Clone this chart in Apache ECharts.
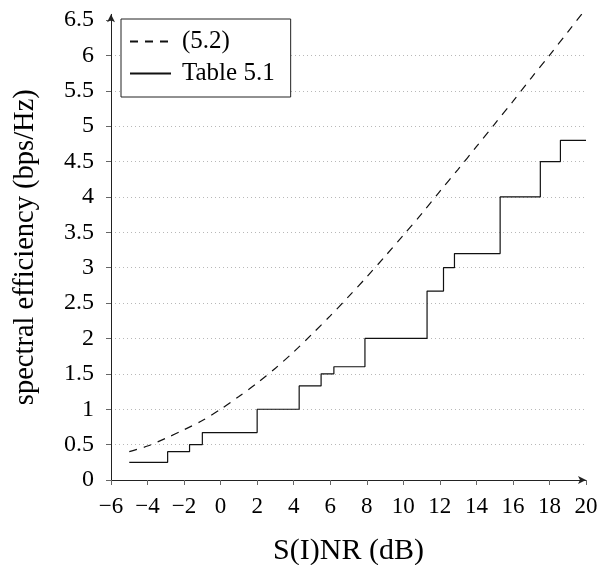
<!DOCTYPE html>
<html>
<head>
<meta charset="utf-8">
<script src="https://cdn.jsdelivr.net/npm/echarts@6/dist/echarts.min.js"></script>
<style>
  html, body { margin: 0; padding: 0; background: #fff; }
  #chart { width: 600px; height: 565px; }
</style>
</head>
<body>
<div id="chart"></div>
<script>
// Shannon-type bound (5.2): S(I)NR in dB vs. spectral efficiency
const boundSnr = [-5, -4, -3, -2, -1, 0, 1, 2, 3, 4, 5, 6, 7, 8, 9, 10, 11, 12, 13, 14, 15, 16, 17, 18, 19, 20];
const boundEff = [0.40, 0.48, 0.59, 0.71, 0.84, 1.00, 1.18, 1.37, 1.58, 1.81, 2.06, 2.32, 2.59, 2.87, 3.16, 3.46, 3.76, 4.08, 4.39, 4.71, 5.03, 5.35, 5.68, 6.00, 6.33, 6.66];

// Table 5.1: switching thresholds (dB) and the efficiency held from each threshold on
const tableSnr = [-5, -2.9, -1.7, -1.0, 2.0, 4.3, 5.5, 6.2, 7.9, 11.3, 12.2, 12.8, 15.3, 17.5, 18.6, 20];
const tableEff = [0.25, 0.40, 0.50, 0.67, 1.00, 1.33, 1.50, 1.60, 2.00, 2.67, 3.00, 3.20, 4.00, 4.50, 4.80, 4.80];

// Axis ticks
const xTicks = [-6, -4, -2, 0, 2, 4, 6, 8, 10, 12, 14, 16, 18, 20];
const yTicks = [0, 0.5, 1, 1.5, 2, 2.5, 3, 3.5, 4, 4.5, 5, 5.5, 6, 6.5];

const seriesNames = ['(5.2)', 'Table 5.1'];

const FONT = 'Liberation Serif';
const pxPerUnit = 460 / 6.5;
const yMax = 6.58;

const chart = echarts.init(document.getElementById('chart'), null, { renderer: 'canvas' });

const pair = (xs, ys) => xs.map((x, i) => [x, ys[i]]);

chart.setOption({
  animation: false,
  backgroundColor: '#fff',
  textStyle: { fontFamily: FONT, color: '#000' },
  grid: {
    left: 111,
    right: 14,
    bottom: 85,
    top: 480 - yMax * pxPerUnit,
    containLabel: false,
    outerBoundsMode: 'none'
  },
  legend: {
    left: 121,
    top: 19,
    orient: 'vertical',
    data: seriesNames,
    itemWidth: 41,
    itemHeight: 14,
    itemGap: 7,
    padding: [10, 16, 11, 8],
    borderColor: '#222',
    borderWidth: 1,
    backgroundColor: '#fff',
    itemStyle: { opacity: 0, color: 'rgba(0,0,0,0)', borderWidth: 0 },
    textStyle: { fontFamily: FONT, fontSize: 25, color: '#000', padding: [0, 0, 0, 6] },
    selectedMode: false
  },
  xAxis: {
    type: 'value',
    min: -6,
    max: 20,
    interval: 2,
    name: 'S(I)NR (dB)',
    nameLocation: 'middle',
    nameGap: 56,
    nameTextStyle: { fontFamily: FONT, fontSize: 30, color: '#000' },
    axisLine: {
      show: true,
      onZero: false,
      symbol: ['none', 'arrow'],
      symbolSize: [6, 8],
      lineStyle: { color: '#222', width: 1 }
    },
    axisTick: {
      show: true,
      length: 5,
      customValues: xTicks,
      lineStyle: { color: '#666', width: 1 }
    },
    axisLabel: {
      customValues: xTicks,
      margin: 15,
      fontFamily: FONT,
      fontSize: 23,
      color: '#000',
      formatter: v => String(v).replace('-', '\u2212')
    },
    splitLine: { show: false }
  },
  yAxis: {
    type: 'value',
    min: 0,
    max: yMax,
    interval: 0.5,
    name: 'spectral efficiency (bps/Hz)',
    nameLocation: 'middle',
    nameGap: 71,
    nameTextStyle: { fontFamily: FONT, fontSize: 28.5, color: '#000' },
    axisLine: {
      show: true,
      onZero: false,
      symbol: ['none', 'arrow'],
      symbolSize: [6, 8],
      lineStyle: { color: '#222', width: 1 }
    },
    axisTick: {
      show: true,
      length: 5,
      customValues: yTicks,
      lineStyle: { color: '#666', width: 1 }
    },
    axisLabel: {
      customValues: yTicks,
      margin: 17,
      fontFamily: FONT,
      fontSize: 24,
      color: '#000'
    },
    splitLine: {
      show: true,
      showMinLine: false,
      showMaxLine: false,
      lineStyle: { color: '#b8b8b8', width: 1, type: [1, 3] }
    }
  },
  series: [
    {
      name: seriesNames[0],
      type: 'line',
      data: pair(boundSnr, boundEff),
      smooth: 0.3,
      showSymbol: false,
      symbol: 'none',
      lineStyle: { color: '#111', width: 1.2, type: [8, 7] },
      itemStyle: { color: '#111' },
      z: 3
    },
    {
      name: seriesNames[1],
      type: 'line',
      data: pair(tableSnr, tableEff),
      step: 'end',
      showSymbol: false,
      symbol: 'none',
      lineStyle: { color: '#111', width: 1.2 },
      itemStyle: { color: '#111' },
      z: 3
    }
  ]
});
</script>
</body>
</html>
